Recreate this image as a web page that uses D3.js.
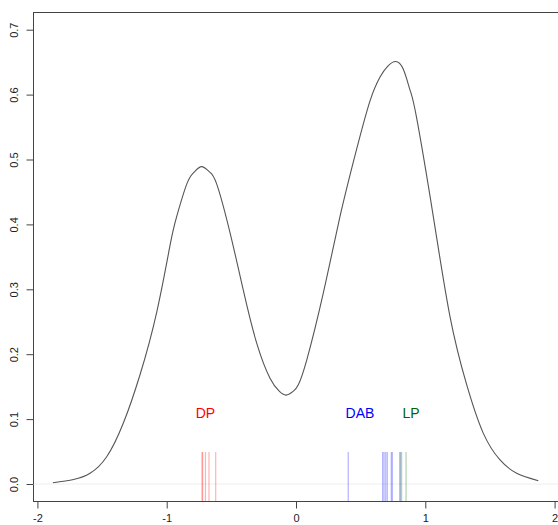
<!DOCTYPE html>
<html>
<head>
<meta charset="utf-8">
<script src="https://cdn.jsdelivr.net/npm/d3@7"></script>
<style>
  body { margin: 0; background: #fff; }
  text { font-family: "Liberation Sans", Arial, sans-serif; }
</style>
</head>
<body>
<svg id="chart" width="558" height="525"></svg>
<script>
// density curve: [x, density]
const densityX = [-1.88, -1.72, -1.593, -1.464, -1.336, -1.207, -1.077, -0.974, -0.923, -0.845, -0.79, -0.73,
  -0.67, -0.613, -0.51, -0.408, -0.304, -0.201, -0.13, -0.077, -0.02, 0.018, 0.083, 0.211, 0.34, 0.469, 0.572,
  0.65, 0.71, 0.771, 0.83, 0.882, 0.933, 1.062, 1.191, 1.32, 1.449, 1.578, 1.707, 1.874];
const densityY = [0.002, 0.007, 0.0165, 0.042, 0.0935, 0.168, 0.265, 0.368, 0.412, 0.462, 0.480, 0.489,
  0.481, 0.462, 0.387, 0.299, 0.217, 0.163, 0.143, 0.137, 0.143, 0.153, 0.191, 0.294, 0.412, 0.516, 0.590,
  0.627, 0.644, 0.651, 0.639, 0.607, 0.564, 0.412, 0.258, 0.153, 0.078, 0.037, 0.0165, 0.005];

// rug values per group
const rugDP = [-0.727, -0.722, -0.70, -0.673, -0.621];
const rugDAB = [0.404, 0.670, 0.681, 0.694, 0.706, 0.737, 0.745, 0.805];
const rugLP = [0.805, 0.817, 0.851];

const groups = ['DP', 'DAB', 'LP'];
const groupColors = ['#ff0000', '#0000ff', '#006400'];
const labelX = [-0.70, 0.495, 0.89];
const labelY = 0.11;

const xTicks = [-2, -1, 0, 1, 2];
const yTicks = [0, 0.1, 0.2, 0.3, 0.4, 0.5, 0.6, 0.7];

const svg = d3.select('#chart');
const boxL = 33, boxR = 558, boxT = 12, boxB = 501;

const x = d3.scaleLinear().domain([-2, 2]).range([37.4, 554.6]);
const y = d3.scaleLinear().domain([0, 0.7]).range([484, 29.7]);

// box
svg.append('rect')
  .attr('x', boxL + 0.5).attr('y', boxT + 0.5)
  .attr('width', boxR - boxL).attr('height', boxB - boxT)
  .style('fill', 'none').style('stroke', '#444').style('stroke-width', 1);

// zero line
svg.append('line')
  .attr('x1', boxL).attr('x2', boxR)
  .attr('y1', y(0)).attr('y2', y(0))
  .style('stroke', '#eee').style('stroke-width', 1);

// axes
const xAxis = svg.append('g')
  .attr('transform', `translate(0,${boxB + 0.5})`)
  .call(d3.axisBottom(x).tickValues(xTicks).tickSize(7).tickPadding(6).tickFormat(d => String(d)));
const yAxis = svg.append('g')
  .attr('transform', `translate(${boxL + 0.5},0)`)
  .call(d3.axisLeft(y).tickValues(yTicks).tickSize(7).tickPadding(5).tickFormat(d => d.toFixed(1)));
[xAxis, yAxis].forEach(g => {
  g.select('.domain').remove();
  g.selectAll('line').style('stroke', '#444');
  g.selectAll('text').style('font-size', '11px').style('fill', '#222')
    .style('font-family', '"Liberation Sans", Arial, sans-serif');
});
xAxis.append('line')
  .attr('x1', x(-2)).attr('x2', x(2))
  .style('stroke', '#444');
yAxis.append('line')
  .attr('y1', y(0)).attr('y2', y(0.7))
  .style('stroke', '#444');
yAxis.selectAll('.tick text')
  .attr('transform', 'rotate(-90)')
  .attr('x', 0).attr('y', -19)
  .attr('dy', '0.35em')
  .style('text-anchor', 'middle');

// rugs
const rugTop = boxB - 0.1 * (boxB - boxT);
[rugDP, rugDAB, rugLP].forEach((vals, i) => {
  svg.append('g').selectAll('line')
    .data(vals)
    .enter()
    .append('line')
    .attr('x1', d => x(d)).attr('x2', d => x(d))
    .attr('y1', rugTop).attr('y2', boxB)
    .style('stroke', groupColors[i])
    .style('stroke-opacity', 0.3)
    .style('stroke-width', 1.2);
});

// density curve
const line = d3.line()
  .x(d => x(d[0]))
  .y(d => y(d[1]))
  .curve(d3.curveNatural);
svg.append('path')
  .datum(densityX.map((v, i) => [v, densityY[i]]))
  .attr('d', line)
  .style('fill', 'none')
  .style('stroke', '#555')
  .style('stroke-width', 1.1);

// group labels
svg.append('g').selectAll('text')
  .data(groups)
  .enter()
  .append('text')
  .attr('x', (d, i) => x(labelX[i]))
  .attr('y', y(labelY))
  .attr('dy', '0.35em')
  .style('text-anchor', 'middle')
  .style('font-size', '14px')
  .style('fill', (d, i) => groupColors[i])
  .text(d => d);
</script>
</body>
</html>
